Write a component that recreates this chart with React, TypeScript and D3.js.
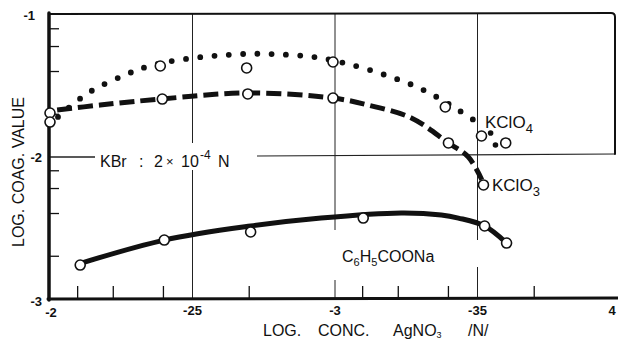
import React from 'react';
import * as d3 from 'd3';

// axis ticks
const xMajor = [-2, -2.5, -3, -3.5, -4];
const xMajorLabels = ['-2', '-25', '-3', '-35', '4'];
const yMajor = [-1, -2, -3];
const yMajorLabels = ['-1', '-2', '-3'];
const xMinor = [-2.097, -2.222, -2.398, -2.699, -3.097, -3.222, -3.398, -3.699];
const yMinor = [-1.097, -1.222, -1.398, -1.699, -2.097, -2.222, -2.398, -2.699];

// KClO4 (dotted)
const kclo4X = [-2, -2.387, -2.69, -2.993, -3.387, -3.514, -3.599];
const kclo4Y = [-1.69, -1.359, -1.373, -1.331, -1.648, -1.852, -1.901];
const kclo4CurveX = [-2.028, -2.134, -2.254, -2.349, -2.475, -2.673, -2.775, -2.926, -3.032, -3.165, -3.303, -3.433, -3.507];
const kclo4CurveY = [-1.718, -1.549, -1.43, -1.359, -1.31, -1.275, -1.275, -1.296, -1.338, -1.415, -1.521, -1.669, -1.768];
const kclo4StrayX = [-3.546, -3.563];
const kclo4StrayY = [-1.831, -1.915];

// KClO3 (dashed)
const kclo3X = [-2, -2.394, -2.694, -2.993, -3.398, -3.521];
const kclo3Y = [-1.754, -1.592, -1.556, -1.585, -1.901, -2.197];
const kclo3CurveX = [-2.025, -2.176, -2.387, -2.694, -2.993, -3.116, -3.268, -3.398, -3.468, -3.515];
const kclo3CurveY = [-1.669, -1.634, -1.592, -1.549, -1.585, -1.634, -1.725, -1.901, -2.0, -2.16];

// C6H5COONa (solid)
const benzX = [-2.106, -2.401, -2.704, -3.099, -3.525, -3.602];
const benzY = [-2.761, -2.585, -2.528, -2.43, -2.486, -2.606];
const benzCurveX = [-2.099, -2.401, -2.704, -2.951, -3.232, -3.373, -3.433, -3.525, -3.602];
const benzCurveY = [-2.754, -2.585, -2.486, -2.43, -2.394, -2.408, -2.43, -2.486, -2.606];

const W = 618;
const H = 342;
const FONT = '"Liberation Sans", Arial, sans-serif';

const x = d3.scaleLinear().domain([-2, -4]).range([50, 620]);
const y = d3.scaleLinear().domain([-1, -3]).range([15, 299]);

const zip = (xs: number[], ys: number[]) => xs.map((v, i) => [v, ys[i]] as [number, number]);

const line = d3
  .line<[number, number]>()
  .x(d => x(d[0]))
  .y(d => y(d[1]))
  .curve(d3.curveCatmullRom.alpha(0.5));

const Circles = ({ xs, ys }: { xs: number[]; ys: number[] }) => (
  <g>
    {xs.map((v, i) => (
      <circle key={i} cx={x(v)} cy={y(ys[i])} r={5} fill="#fff" stroke="#111" strokeWidth={1.6} />
    ))}
  </g>
);

export default function App() {
  const top = 14;
  const left = 49;
  const bottom = 299;
  const right = 615;
  return (
    <svg
      width={W}
      height={H}
      viewBox={`0 0 ${W} ${H}`}
      style={{ position: 'absolute', left: 0, top: 0, background: '#fff' }}
    >
      {/* vertical grid lines, broken where text/curves sit */}
      <g stroke="#222" strokeWidth={1}>
        <line x1={x(-2.5)} x2={x(-2.5)} y1={top} y2={143} />
        <line x1={x(-2.5)} x2={x(-2.5)} y1={170} y2={bottom} />
        <line x1={x(-3)} x2={x(-3)} y1={top} y2={230} />
        <line x1={x(-3)} x2={x(-3)} y1={280} y2={bottom} />
        <line x1={x(-3.5)} x2={x(-3.5)} y1={top} y2={240} />
        <line x1={x(-3.5)} x2={x(-3.5)} y1={267} y2={bottom} />
        {/* horizontal grid at -2 */}
        <line x1={left} x2={95} y1={y(-2)} y2={y(-2)} strokeWidth={1.4} />
        <line x1={257} x2={right} y1={y(-2) - 1} y2={y(-2) - 3} strokeWidth={1.2} />
      </g>

      {/* minor ticks */}
      <g stroke="#111" strokeWidth={1.3}>
        {xMinor.map((v, i) => (
          <line key={i} x1={x(v)} x2={x(v)} y1={bottom} y2={bottom - 13} />
        ))}
        {yMinor.map((v, i) => (
          <line key={i} x1={left} x2={left + 10} y1={y(v)} y2={y(v)} />
        ))}
      </g>

      {/* frame */}
      <g fill="none" stroke="#111" strokeLinecap="round">
        <line x1={left} x2={left} y1={top - 1} y2={bottom + 1} strokeWidth={3.5} />
        <line x1={left - 1} x2={W} y1={bottom} y2={bottom - 1} strokeWidth={3} />
        <path
          d={`M${left},${top} L${right - 4},${top - 1} Q${right},${top - 1} ${right},${top + 3} L${right},${y(-2) - 3}`}
          strokeWidth={2}
        />
      </g>

      {/* curves */}
      <path
        d={line(zip(kclo4CurveX, kclo4CurveY)) || ''}
        fill="none"
        stroke="#111"
        strokeWidth={5.8}
        strokeLinecap="round"
        strokeDasharray="0 14.3"
      />
      {kclo4StrayX.map((v, i) => (
        <circle key={i} cx={x(v)} cy={y(kclo4StrayY[i])} r={2.8} fill="#111" />
      ))}
      <path
        d={line(zip(kclo3CurveX, kclo3CurveY)) || ''}
        fill="none"
        stroke="#111"
        strokeWidth={5}
        strokeDasharray="15 6"
      />
      <path
        d={line(zip(benzCurveX, benzCurveY)) || ''}
        fill="none"
        stroke="#111"
        strokeWidth={5}
        strokeLinecap="round"
      />

      <Circles xs={kclo4X} ys={kclo4Y} />
      <Circles xs={kclo3X} ys={kclo3Y} />
      <Circles xs={benzX} ys={benzY} />

      {/* tick labels */}
      <g fontFamily={FONT} fontSize={13} fontWeight="bold" fill="#111">
        {xMajor.map((v, i) => (
          <text
            key={i}
            x={i === 4 ? x(v) - 8 : x(v) + (i === 0 ? 1 : 0)}
            y={i === 0 ? 317 : 315}
            textAnchor="middle"
          >
            {xMajorLabels[i]}
          </text>
        ))}
        {yMajor.map((v, i) => (
          <text key={i} x={i === 0 ? 35 : 42} y={y(v) + (i === 2 ? 7 : 5)} textAnchor="end">
            {yMajorLabels[i]}
          </text>
        ))}
      </g>

      {/* annotations */}
      <g fontFamily={FONT} fill="#111" fontSize={17}>
        <text x={485} y={128}>
          KClO<tspan fontSize={13} dy={5}>4</tspan>
        </text>
        <text x={492} y={191}>
          KClO<tspan fontSize={13} dy={5}>3</tspan>
        </text>
        <text x={342} y={262} fontSize={16}>
          C<tspan fontSize={11} dy={4}>6</tspan>
          <tspan dy={-4}>H</tspan>
          <tspan fontSize={11} dy={4}>5</tspan>
          <tspan dy={-4}>COONa</tspan>
        </text>
        <g fontSize={16}>
          <text x={100} y={167}>KBr</text>
          <text x={139} y={167}>:</text>
          <text x={154} y={167}>2</text>
          <text x={166} y={166} fontSize={13}>×</text>
          <text x={181} y={167}>10</text>
          <text x={200} y={159} fontSize={12}>-4</text>
          <text x={218} y={167}>N</text>
        </g>
      </g>

      {/* axis titles */}
      <g fontFamily={FONT} fill="#111" fontSize={16}>
        <text x={263} y={336}>LOG.</text>
        <text x={318} y={336}>CONC.</text>
        <text x={393} y={336}>
          AgNO<tspan fontSize={9} dy={2}>3</tspan>
        </text>
        <text x={468} y={336}>/N/</text>
        <text transform="translate(24,172) rotate(-90)" textAnchor="middle">
          LOG. COAG. VALUE
        </text>
      </g>
    </svg>
  );
}
